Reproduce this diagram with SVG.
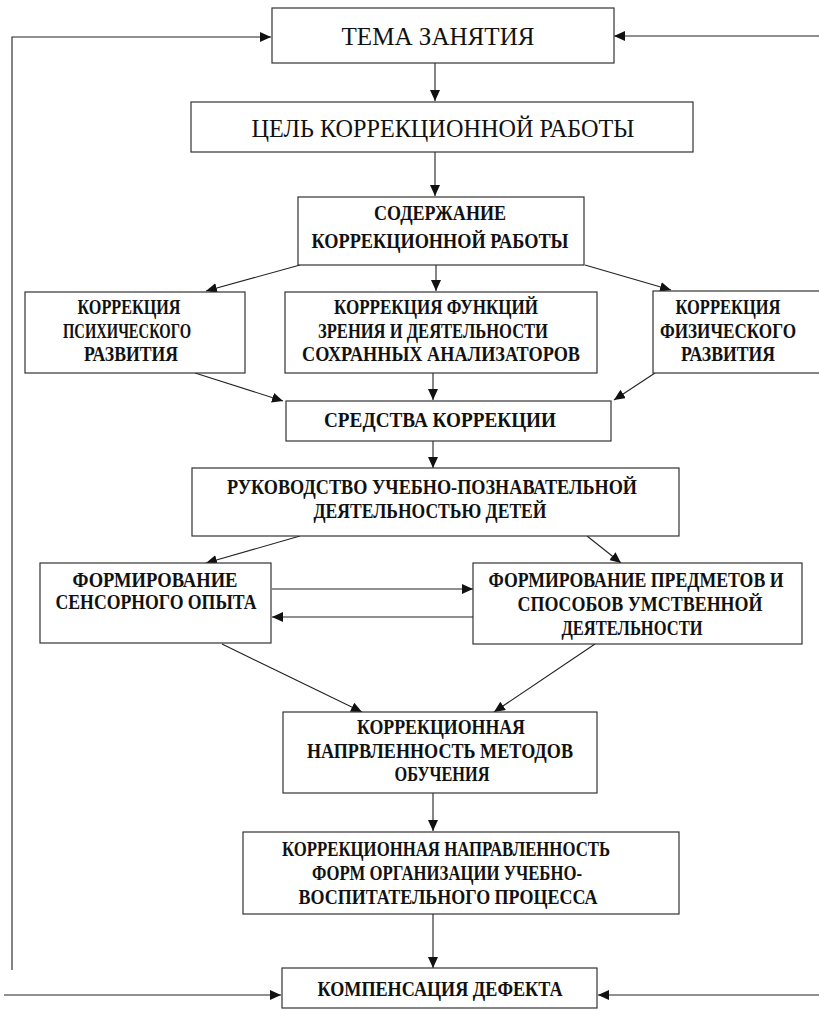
<svg xmlns="http://www.w3.org/2000/svg" width="819" height="1011" viewBox="0 0 819 1011">
<style>
.box{fill:#fff;stroke:#333;stroke-width:1.2}
.b{font-family:"Liberation Serif",serif;font-weight:bold;font-size:20px;fill:#111;text-anchor:middle}
.r{font-family:"Liberation Serif",serif;font-size:26px;fill:#111;text-anchor:middle}
.c{fill:none;stroke:#222;stroke-width:1.1}
</style>
<defs>
<marker id="ah" markerUnits="userSpaceOnUse" markerWidth="12" markerHeight="10" refX="11" refY="5" orient="auto">
<path d="M0,0 L11,5 L0,10 Z" fill="#111"/>
</marker>
</defs>
<rect width="819" height="1011" fill="#fff"/>
<g id="connectors">
<polyline class="c" points="12,970 12,37 271,37" marker-end="url(#ah)"/>
<line class="c" x1="819" y1="36" x2="614" y2="36" marker-end="url(#ah)"/>
<line class="c" x1="435" y1="63" x2="435" y2="101" marker-end="url(#ah)"/>
<line class="c" x1="435" y1="152" x2="435" y2="196" marker-end="url(#ah)"/>
<line class="c" x1="300" y1="265" x2="206" y2="291" marker-end="url(#ah)"/>
<line class="c" x1="436" y1="265" x2="436" y2="291" marker-end="url(#ah)"/>
<line class="c" x1="585" y1="265" x2="671" y2="290" marker-end="url(#ah)"/>
<line class="c" x1="195" y1="373" x2="283" y2="401" marker-end="url(#ah)"/>
<line class="c" x1="433" y1="373" x2="433" y2="400" marker-end="url(#ah)"/>
<line class="c" x1="655" y1="373" x2="614" y2="400" marker-end="url(#ah)"/>
<line class="c" x1="433" y1="441" x2="433" y2="468" marker-end="url(#ah)"/>
<line class="c" x1="300" y1="536" x2="206" y2="563" marker-end="url(#ah)"/>
<line class="c" x1="587" y1="536" x2="621" y2="563" marker-end="url(#ah)"/>
<line class="c" x1="272" y1="589" x2="473" y2="589" marker-end="url(#ah)"/>
<line class="c" x1="473" y1="617" x2="272" y2="617" marker-end="url(#ah)"/>
<line class="c" x1="222" y1="644" x2="362" y2="712" marker-end="url(#ah)"/>
<line class="c" x1="595" y1="644" x2="494" y2="712" marker-end="url(#ah)"/>
<line class="c" x1="433" y1="793" x2="433" y2="831" marker-end="url(#ah)"/>
<line class="c" x1="433" y1="914" x2="433" y2="968" marker-end="url(#ah)"/>
<line class="c" x1="4" y1="995" x2="281" y2="995" marker-end="url(#ah)"/>
<line class="c" x1="819" y1="995" x2="598" y2="995" marker-end="url(#ah)"/>
</g>
<g id="n_tema">
<rect class="box" x="272" y="8" width="342" height="55"/>
<text class="r" x="438" y="45" textLength="193" lengthAdjust="spacingAndGlyphs">ТЕМА ЗАНЯТИЯ</text>
</g>
<g id="n_cel">
<rect class="box" x="191" y="102" width="502" height="50"/>
<text class="r" x="443" y="137" textLength="383" lengthAdjust="spacingAndGlyphs">ЦЕЛЬ КОРРЕКЦИОННОЙ РАБОТЫ</text>
</g>
<g id="n_soderzhanie">
<rect class="box" x="298" y="197" width="286" height="68"/>
<text class="b" x="440" y="220" textLength="132" lengthAdjust="spacingAndGlyphs">СОДЕРЖАНИЕ</text>
<text class="b" x="440" y="248" textLength="257" lengthAdjust="spacingAndGlyphs">КОРРЕКЦИОННОЙ РАБОТЫ</text>
</g>
<g id="n_psih">
<rect class="box" x="25" y="292" width="220" height="81"/>
<text class="b" x="129" y="314" textLength="103" lengthAdjust="spacingAndGlyphs">КОРРЕКЦИЯ</text>
<text class="b" x="127" y="338" textLength="128" lengthAdjust="spacingAndGlyphs">ПСИХИЧЕСКОГО</text>
<text class="b" x="131" y="361" textLength="94" lengthAdjust="spacingAndGlyphs">РАЗВИТИЯ</text>
</g>
<g id="n_zrenie">
<rect class="box" x="285" y="292" width="312" height="81"/>
<text class="b" x="436" y="314" textLength="204" lengthAdjust="spacingAndGlyphs">КОРРЕКЦИЯ ФУНКЦИЙ</text>
<text class="b" x="433" y="338" textLength="230" lengthAdjust="spacingAndGlyphs">ЗРЕНИЯ И ДЕЯТЕЛЬНОСТИ</text>
<text class="b" x="441" y="361" textLength="278" lengthAdjust="spacingAndGlyphs">СОХРАННЫХ АНАЛИЗАТОРОВ</text>
</g>
<g id="n_fiz">
<rect class="box" x="653" y="291" width="172" height="82"/>
<text class="b" x="728" y="314" textLength="105" lengthAdjust="spacingAndGlyphs">КОРРЕКЦИЯ</text>
<text class="b" x="728" y="338" textLength="136" lengthAdjust="spacingAndGlyphs">ФИЗИЧЕСКОГО</text>
<text class="b" x="728" y="361" textLength="94" lengthAdjust="spacingAndGlyphs">РАЗВИТИЯ</text>
</g>
<g id="n_sredstva">
<rect class="box" x="286" y="401" width="325" height="40"/>
<text class="b" x="440" y="427" textLength="232" lengthAdjust="spacingAndGlyphs">СРЕДСТВА КОРРЕКЦИИ</text>
</g>
<g id="n_rukovodstvo">
<rect class="box" x="192" y="468" width="487" height="68"/>
<text class="b" x="432" y="494" textLength="410" lengthAdjust="spacingAndGlyphs">РУКОВОДСТВО УЧЕБНО-ПОЗНАВАТЕЛЬНОЙ</text>
<text class="b" x="430" y="518" textLength="233" lengthAdjust="spacingAndGlyphs">ДЕЯТЕЛЬНОСТЬЮ ДЕТЕЙ</text>
</g>
<g id="n_sensor">
<rect class="box" x="40" y="563" width="231" height="80"/>
<text class="b" x="155" y="587" textLength="165" lengthAdjust="spacingAndGlyphs">ФОРМИРОВАНИЕ</text>
<text class="b" x="156" y="609" textLength="201" lengthAdjust="spacingAndGlyphs">СЕНСОРНОГО ОПЫТА</text>
</g>
<g id="n_predmety">
<rect class="box" x="473" y="563" width="329" height="81"/>
<text class="b" x="636" y="587" textLength="295" lengthAdjust="spacingAndGlyphs">ФОРМИРОВАНИЕ ПРЕДМЕТОВ И</text>
<text class="b" x="640" y="611" textLength="245" lengthAdjust="spacingAndGlyphs">СПОСОБОВ УМСТВЕННОЙ</text>
<text class="b" x="632" y="635" textLength="141" lengthAdjust="spacingAndGlyphs">ДЕЯТЕЛЬНОСТИ</text>
</g>
<g id="n_metody">
<rect class="box" x="283" y="712" width="314" height="81"/>
<text class="b" x="441" y="734" textLength="168" lengthAdjust="spacingAndGlyphs">КОРРЕКЦИОННАЯ</text>
<text class="b" x="440" y="758" textLength="266" lengthAdjust="spacingAndGlyphs">НАПРВЛЕННОСТЬ МЕТОДОВ</text>
<text class="b" x="442" y="781" textLength="95" lengthAdjust="spacingAndGlyphs">ОБУЧЕНИЯ</text>
</g>
<g id="n_formy">
<rect class="box" x="243" y="832" width="436" height="82"/>
<text class="b" x="446" y="856" textLength="328" lengthAdjust="spacingAndGlyphs">КОРРЕКЦИОННАЯ НАПРАВЛЕННОСТЬ</text>
<text class="b" x="447" y="880" textLength="270" lengthAdjust="spacingAndGlyphs">ФОРМ ОРГАНИЗАЦИИ УЧЕБНО-</text>
<text class="b" x="448" y="904" textLength="299" lengthAdjust="spacingAndGlyphs">ВОСПИТАТЕЛЬНОГО ПРОЦЕССА</text>
</g>
<g id="n_kompensaciya">
<rect class="box" x="282" y="968" width="315" height="40"/>
<text class="b" x="440" y="996" textLength="245" lengthAdjust="spacingAndGlyphs">КОМПЕНСАЦИЯ ДЕФЕКТА</text>
</g>
</svg>
